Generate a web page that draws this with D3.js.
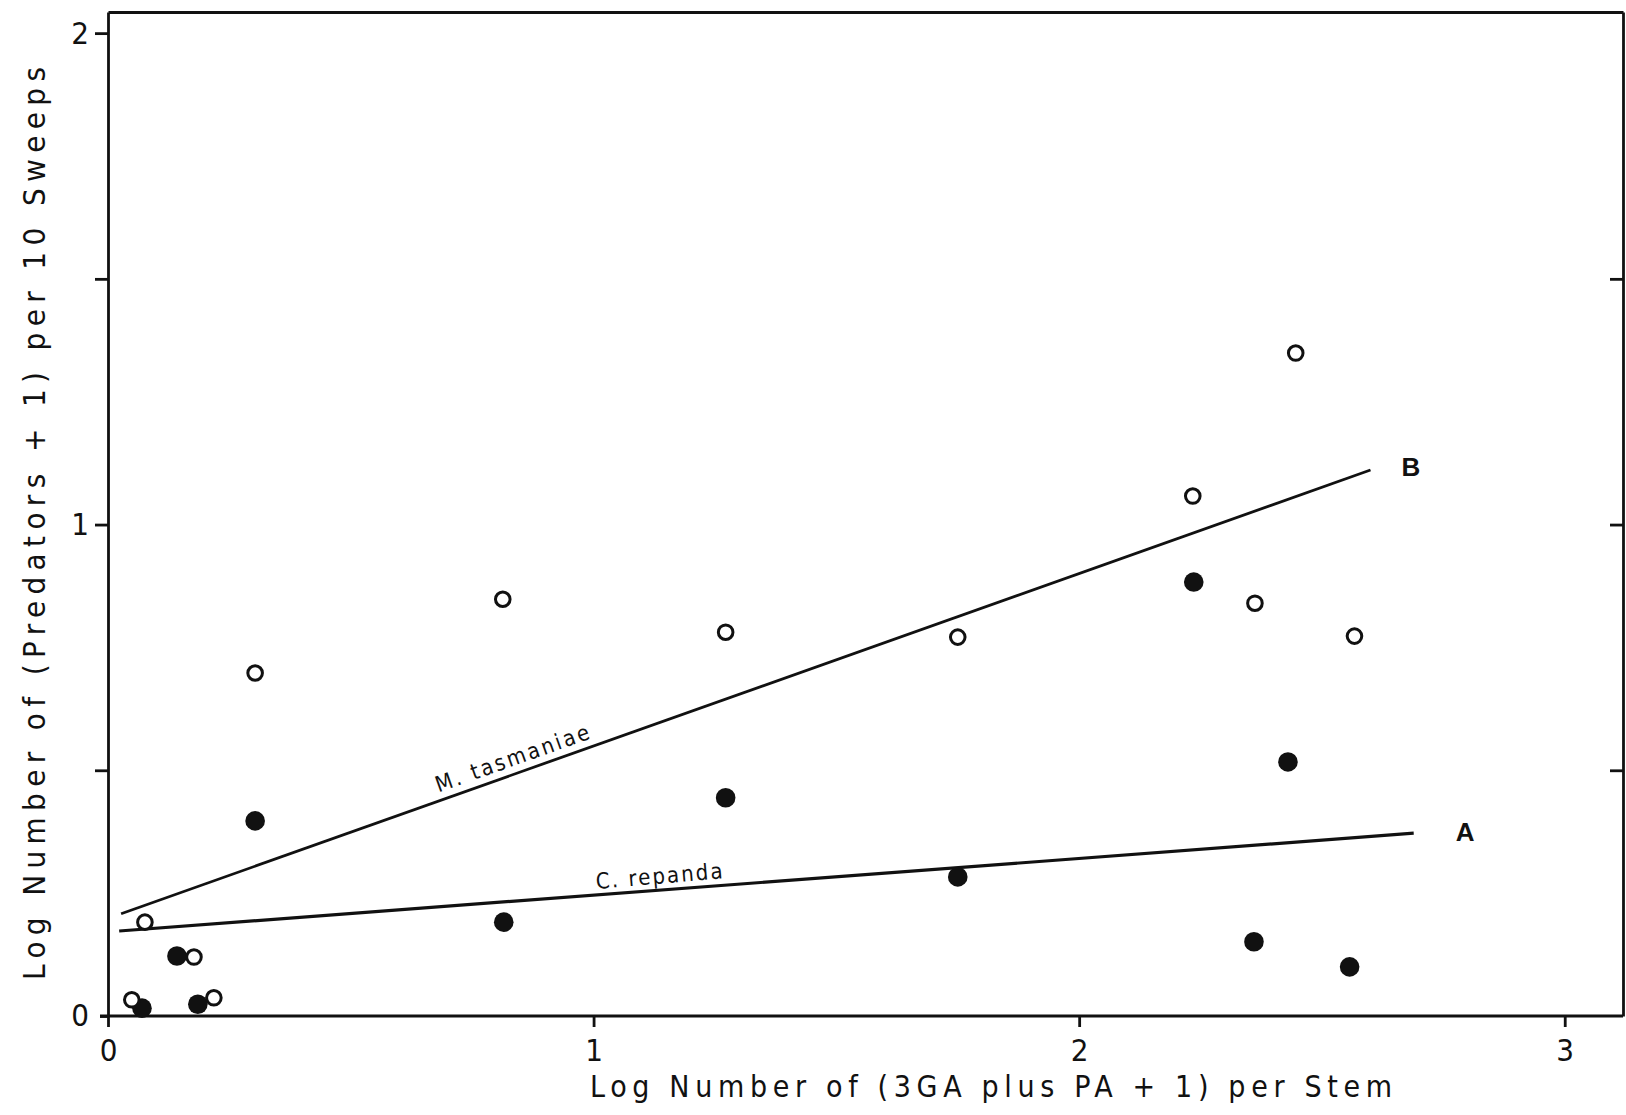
<!DOCTYPE html>
<html>
<head>
<meta charset="utf-8">
<script src="https://cdn.jsdelivr.net/npm/d3@7"></script>
<style>
  html, body { margin: 0; padding: 0; background: #fff; }
  svg { display: block; }
  text { font-family: "DejaVu Sans Condensed", "DejaVu Sans", sans-serif; font-stretch: condensed; fill: #111; }
</style>
</head>
<body>
<svg id="chart" width="1626" height="1115"></svg>
<script>
// ---- Data ----
// Open circles: M. tasmaniae
const openX = [0.076, 0.049, 0.177, 0.218, 0.303, 0.813, 1.272, 1.750, 2.234, 2.446, 2.362, 2.567];
const openY = [0.191, 0.033, 0.120, 0.037, 0.698, 0.848, 0.781, 0.771, 1.058, 1.349, 0.840, 0.773];
// Filled circles: C. repanda
const filledX = [0.070, 0.142, 0.185, 0.303, 0.815, 1.272, 1.750, 2.236, 2.430, 2.360, 2.557];
const filledY = [0.016, 0.122, 0.024, 0.397, 0.191, 0.444, 0.283, 0.883, 0.517, 0.151, 0.100];
// Regression lines
const lineBX = [0.027, 2.600];   // B: M. tasmaniae
const lineBY = [0.208, 1.111];
const lineAX = [0.023, 2.689];   // A: C. repanda
const lineAY = [0.173, 0.372];
// Ticks
const xTickValues = [0, 1, 2, 3];
const yTickValues = [0, 0.5, 1, 1.5, 2];
const yTickLabels = ["0", "", "1", "", "2"];
const rightTickValues = [0.5, 1, 1.5];
// Texts
const xTitle = "Log Number of (3GA plus PA + 1) per Stem";
const yTitle = "Log Number of (Predators + 1) per 10 Sweeps";
const lineBName = "M. tasmaniae";
const lineAName = "C. repanda";
const lineBTag = "B";
const lineATag = "A";

// ---- Layout ----
const svg = d3.select("#chart");
const L = 108, R = 1623, T = 12, B = 1016;
const x = d3.scaleLinear().domain([0, 3.12]).range([L, R]);
const y = d3.scaleLinear().domain([0, 2.043]).range([B, T]);
const ink = "#111";
const sw = 2.8;

function styleAxis(g) {
  g.selectAll("path.domain").attr("stroke", ink).attr("stroke-width", sw);
  g.selectAll(".tick line").attr("stroke", ink).attr("stroke-width", sw);
  g.selectAll(".tick text").attr("fill", ink).style("font-size", "31px");
}

// bottom axis
const gx = svg.append("g").attr("transform", `translate(0,${B})`)
  .call(d3.axisBottom(x).tickValues(xTickValues).tickSize(11).tickSizeOuter(0).tickPadding(12).tickFormat(d3.format("d")));
styleAxis(gx);
gx.select("path.domain").attr("d", `M${L - 8},0H${R}`);

// left axis
const gy = svg.append("g").attr("transform", `translate(${L},0)`)
  .call(d3.axisLeft(y).tickValues(yTickValues).tickSize(13).tickSizeOuter(0).tickPadding(6)
    .tickFormat((d, i) => yTickLabels[i]));
styleAxis(gy);
gy.selectAll(".tick").filter(d => d === 0).select("line").attr("x2", -8);

// right axis (inward ticks, no labels)
const gr = svg.append("g").attr("transform", `translate(${R},0)`)
  .call(d3.axisRight(y).tickValues(rightTickValues).tickSize(-13).tickSizeOuter(0).tickFormat(""));
styleAxis(gr);

// top border
const gt = svg.append("g").attr("transform", `translate(0,${T})`)
  .call(d3.axisTop(x).tickValues([]).tickSizeOuter(0));
styleAxis(gt);

// axis titles
svg.append("text")
  .attr("x", 590).attr("y", 1097)
  .attr("textLength", 802).attr("lengthAdjust", "spacing")
  .style("font-size", "30px")
  .text(xTitle);

svg.append("text")
  .attr("transform", "translate(45,980) rotate(-90)")
  .attr("textLength", 913).attr("lengthAdjust", "spacing")
  .style("font-size", "31px")
  .text(yTitle);

// regression lines
const line = d3.line().x(d => x(d[0])).y(d => y(d[1]));
svg.append("path").datum(d3.zip(lineBX, lineBY))
  .attr("d", line).attr("fill", "none").attr("stroke", ink).attr("stroke-width", 2.8);
svg.append("path").datum(d3.zip(lineAX, lineAY))
  .attr("d", line).attr("fill", "none").attr("stroke", ink).attr("stroke-width", 3.2);

// line name labels along lines
function angleOf(xs, ys) {
  const dx = x(xs[1]) - x(xs[0]), dy = y(ys[1]) - y(ys[0]);
  return Math.atan2(dy, dx) * 180 / Math.PI;
}
function yOnLine(xs, ys, xv) {
  return ys[0] + (ys[1] - ys[0]) * (xv - xs[0]) / (xs[1] - xs[0]);
}
const bStart = 0.686;
svg.append("text")
  .attr("transform", `translate(${x(bStart)},${y(yOnLine(lineBX, lineBY, bStart))}) rotate(${angleOf(lineBX, lineBY)}) translate(0,-8)`)
  .attr("textLength", 162).attr("lengthAdjust", "spacing")
  .style("font-size", "22px")
  .text(lineBName);
const aStart = 1.007;
svg.append("text")
  .attr("transform", `translate(${x(aStart)},${y(yOnLine(lineAX, lineAY, aStart))}) rotate(${angleOf(lineAX, lineAY) - 0.5}) translate(0,-6)`)
  .attr("textLength", 127).attr("lengthAdjust", "spacing")
  .style("font-size", "22px")
  .text(lineAName);

// tags B and A
svg.append("text")
  .attr("x", x(lineBX[1]) + 31).attr("y", y(lineBY[1]) + 6)
  .style("font-family", "'Liberation Sans', Arial, sans-serif").style("font-stretch", "normal")
  .style("font-weight", "bold").style("font-size", "26px")
  .text(lineBTag);
svg.append("text")
  .attr("x", x(lineAX[1]) + 42).attr("y", y(lineAY[1]) + 8)
  .style("font-family", "'Liberation Sans', Arial, sans-serif").style("font-stretch", "normal")
  .style("font-weight", "bold").style("font-size", "26px")
  .text(lineATag);

// points
svg.append("g").selectAll("circle").data(d3.zip(filledX, filledY)).join("circle")
  .attr("cx", d => x(d[0])).attr("cy", d => y(d[1])).attr("r", 9.8)
  .attr("fill", ink);
svg.append("g").selectAll("circle").data(d3.zip(openX, openY)).join("circle")
  .attr("cx", d => x(d[0])).attr("cy", d => y(d[1])).attr("r", 7.3)
  .attr("fill", "#fff").attr("stroke", ink).attr("stroke-width", 3);
</script>
</body>
</html>
